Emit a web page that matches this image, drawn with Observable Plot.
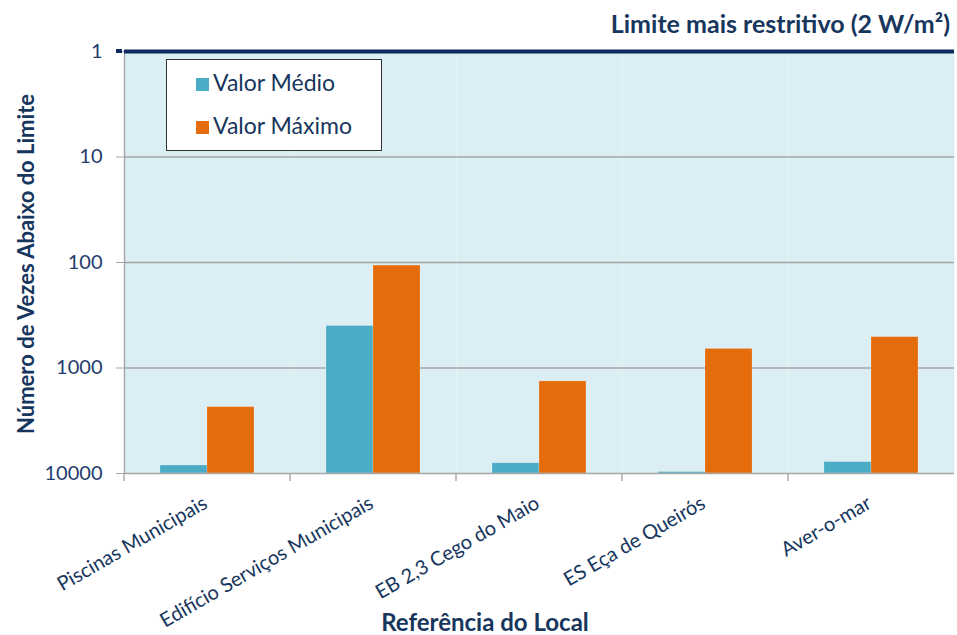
<!DOCTYPE html>
<html>
<head>
<meta charset="utf-8">
<script src="https://cdn.jsdelivr.net/npm/d3@7"></script>
<script src="https://cdn.jsdelivr.net/npm/@observablehq/plot@0.6"></script>
<style>
  html, body { margin: 0; padding: 0; background: #fff; }
  #wrap { position: relative; width: 957px; height: 635px; font-family: Lato, "Open Sans", sans-serif; overflow: hidden; }
  #title { position: absolute; right: 7px; top: 8px; font-size: 25px; font-weight: 700; color: #17365d; white-space: nowrap; line-height: 1.2; }
  #ylabel { position: absolute; left: 25px; top: 264px; transform: translate(-50%, -50%) rotate(-90deg); font-size: 22px; font-weight: 700; color: #17365d; white-space: nowrap; }
  #xlabel { position: absolute; left: 485px; top: 611px; transform: translateX(-50%); font-size: 24px; font-weight: 700; color: #17365d; white-space: nowrap; line-height: 22px; }
  #legend { position: absolute; left: 166px; top: 59px; width: 214px; height: 90px; background: #fff; border: 1px solid #333; }
  .item { position: absolute; left: 29px; font-size: 23px; color: #17365d; white-space: nowrap; line-height: 1; }
  .sw { display: inline-block; width: 13px; height: 13px; margin-right: 4px; }
  #chart { position: absolute; left: 0; top: 0; }
</style>
</head>
<body>
<div id="wrap">
  <div id="chart"></div>
  <div id="title"></div>
  <div id="ylabel"></div>
  <div id="xlabel"></div>
  <div id="legend"></div>
</div>
<script>
const categories = ["Piscinas Municipais", "Edifício Serviços Municipais", "EB 2,3 Cego do Maio", "ES Eça de Queirós", "Aver-o-mar"];
const series = ["Valor Médio", "Valor Máximo"];
const seriesColors = ["#4bacc6", "#e46c0a"];
const valorMedio = [8400, 400, 8000, 9700, 7800];
const valorMaximo = [2350, 107, 1340, 660, 510];
const yTicks = [1, 10, 100, 1000, 10000];
const gridValues = [10, 100, 1000];
const limitValue = 1;
const baseValue = 10000;
const titleText = "Limite mais restritivo (2 W/m²)";
const yLabelText = "Número de Vezes Abaixo do Limite";
const xLabelText = "Referência do Local";

const rows = categories.flatMap((c, i) => [
  {cat: c, series: series[0], value: valorMedio[i]},
  {cat: c, series: series[1], value: valorMaximo[i]}
]);

const navy = "#17365d";
const tickNavy = "#1f3d6e";
const gray = "#a6a6a6";

const marginLeft = 122, marginRight = 2, marginTop = 51, marginBottom = 162;

const chart = Plot.plot({
  width: 957,
  height: 635,
  marginLeft, marginRight, marginTop, marginBottom,
  style: {fontFamily: "Lato, sans-serif", background: "transparent"},
  fx: {domain: categories, padding: 0},
  x: {domain: series, paddingOuter: 0.74, paddingInner: 0, axis: null},
  y: {type: "log", domain: [1, 10000], reverse: true},
  color: {domain: series, range: seriesColors},
  marks: [
    Plot.frame({fill: "#dbeef4", stroke: null}),
    Plot.ruleY(gridValues, {stroke: gray, strokeWidth: 1.4}),
    Plot.barY(rows, {fx: "cat", x: "series", y1: baseValue, y2: "value", fill: "series", stroke: "#ffffff", strokeOpacity: 0.25, strokeWidth: 0.8}),
    Plot.ruleY([baseValue], {stroke: gray, strokeWidth: 1.4}),
    Plot.frame({anchor: "left", stroke: gray, strokeWidth: 1.4, facetAnchor: "left"}),
    Plot.ruleY([limitValue], {stroke: "#0f2a5e", strokeWidth: 4}),
    Plot.axisY({ticks: yTicks, tickFormat: d => String(d), tickSize: 8, tickPadding: 14, fontSize: 20, stroke: gray, fill: tickNavy, label: null}),
    Plot.axisFx({anchor: "bottom", tickRotate: -30, tickSize: 0, tickPadding: 28, dx: -2, fontSize: 20, fill: navy, label: null})
  ]
});

document.getElementById("chart").appendChild(chart);

// boundary ticks below baseline between categories
const fx = chart.scale("fx");
const ys = chart.scale("y");
const yb = ys.apply(baseValue);
const svg = d3.select(chart);
const bounds = categories.map(c => fx.apply(c));
svg.append("g").selectAll("line").data(bounds).join("line")
  .attr("x1", d => d).attr("x2", d => d)
  .attr("y1", yb).attr("y2", yb + 8)
  .attr("stroke", gray).attr("stroke-width", 1.4);
// extend navy limit line over the tick
const y1 = ys.apply(limitValue);
svg.append("line").attr("x1", marginLeft - 6).attr("x2", marginLeft).attr("y1", y1).attr("y2", y1)
  .attr("stroke", "#0f2a5e").attr("stroke-width", 4);

document.getElementById("title").textContent = titleText;
document.getElementById("ylabel").textContent = yLabelText;
document.getElementById("xlabel").textContent = xLabelText;
const legend = d3.select("#legend");
series.forEach((s, i) => {
  const item = legend.append("div").attr("class", "item").style("top", (i === 0 ? 11 : 54) + "px");
  item.append("span").attr("class", "sw").style("background", seriesColors[i]);
  item.append("span").text(s);
});
</script>
</body>
</html>
